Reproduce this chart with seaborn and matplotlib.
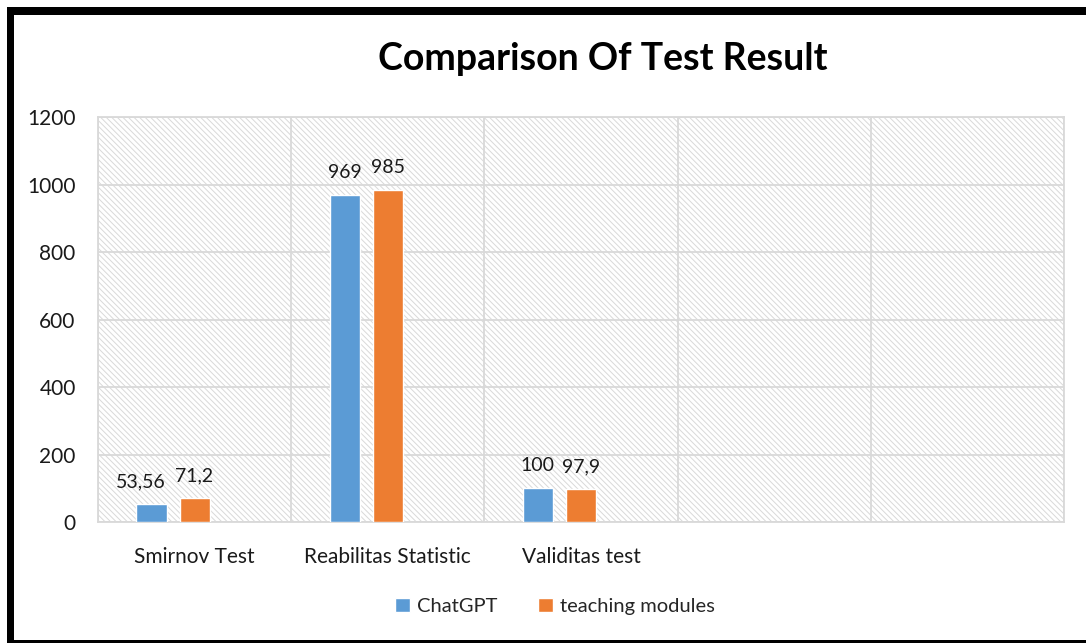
import pandas as pd
import seaborn as sns
import matplotlib.pyplot as plt
from matplotlib.patches import Rectangle, Patch
import numpy as np

sns.set_theme(style="white")
plt.rcParams['font.family'] = ['Lato', 'DejaVu Sans']
plt.rcParams['hatch.linewidth'] = 0.7

categories = ['Smirnov Test', 'Reabilitas Statistic', 'Validitas test']
chatgpt = [53.56, 969, 100]
teaching = [71.2, 985, 97.9]
series_names = ['ChatGPT', 'teaching modules']
y_ticks = [0, 200, 400, 600, 800, 1000, 1200]
n_slots = 5  # chart area keeps five category slots, two are empty

blue = '#5B9BD5'
orange = '#ED7D31'
grid_col = '#D9D9D9'

df = pd.DataFrame({
    'test': categories * 2,
    'series': [series_names[0]] * 3 + [series_names[1]] * 3,
    'value': chatgpt + teaching,
})

fig = plt.figure(figsize=(10.86, 6.43), dpi=100)
ax = fig.add_axes([0.0902, 0.188, 0.8895, 0.630])

# hatched plot background
ax.add_patch(Rectangle((0, 0), 1, 1, transform=ax.transAxes, facecolor='white',
                       edgecolor=grid_col, hatch='\\\\\\\\\\\\', lw=0, zorder=0))

sns.barplot(
    data=df, x='test', y='value', hue='series',
    order=categories,
    hue_order=series_names + ['empty'],
    palette={series_names[0]: blue, series_names[1]: orange, 'empty': 'white'},
    width=0.668, gap=0.3, saturation=1, legend=False, ax=ax, zorder=3,
)

all_labels = []
for cont in ax.containers:
    all_labels.append(ax.bar_label(cont, fmt=lambda v: f'{v:g}'.replace('.', ','),
                                   padding=10, fontsize=14, color='#1a1a1a'))
# nudge the first label left so it doesn't touch its neighbour (as in the original)
if all_labels and all_labels[0]:
    x0, y0 = all_labels[0][0].xyann
    all_labels[0][0].xyann = (x0 - 8, y0)

ax.set_xlim(-0.5, n_slots - 0.5)
ax.set_ylim(0, 1200)
ax.set_yticks(y_ticks)
ax.set_xticks(range(len(categories)))
ax.set_xticklabels(categories)
ax.set_xticks(np.arange(-0.5, n_slots, 1.0), minor=True)

ax.grid(False)
ax.yaxis.grid(True, color=grid_col, lw=1.3, zorder=1)
ax.xaxis.grid(True, which='minor', color=grid_col, lw=1.3, zorder=1)
ax.set_axisbelow(True)
for s in ax.spines.values():
    s.set_color(grid_col)
    s.set_linewidth(1.3)

ax.tick_params(axis='both', which='both', length=0, labelsize=15, colors='#1a1a1a')
ax.tick_params(axis='y', pad=16)
ax.tick_params(axis='x', pad=18)
ax.set_xlabel('')
ax.set_ylabel('')

fig.text(0.555, 0.908, 'Comparison Of Test Result', ha='center', va='center',
         fontsize=27, fontweight='bold', color='black')

handles = [Patch(facecolor=blue), Patch(facecolor=orange)]
fig.legend(handles, series_names, loc='center', bbox_to_anchor=(0.511, 0.057),
           ncol=2, frameon=False, fontsize=14.5, handlelength=0.75, handleheight=0.75,
           handletextpad=0.35, columnspacing=2.0)

# outer frame
fig.add_artist(Rectangle((7 / 1086, 0), 7 / 1086, 1 - 7 / 643, transform=fig.transFigure,
                         color='black', lw=0))
fig.add_artist(Rectangle((7 / 1086, 1 - 15 / 643), 1, 8 / 643, transform=fig.transFigure,
                         color='black', lw=0))
fig.add_artist(Rectangle((7 / 1086, 0), 1, 3 / 643, transform=fig.transFigure,
                         color='black', lw=0))

fig.savefig('out.png', dpi=100, facecolor='white')
